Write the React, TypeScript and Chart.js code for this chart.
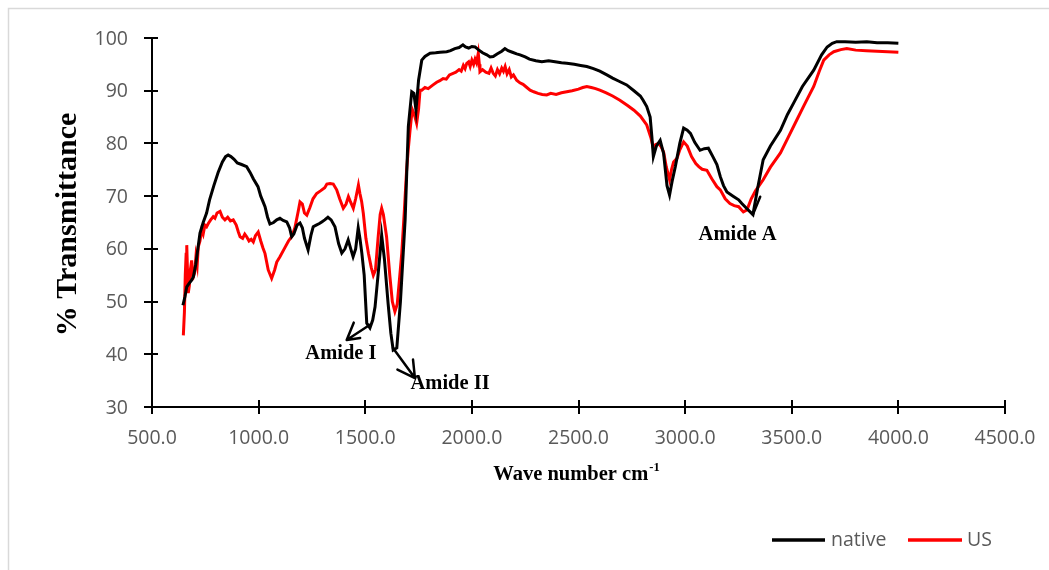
import React, { useEffect, useRef } from "react";
import { Chart, registerables } from "chart.js";

Chart.register(...registerables);

// ---- Data (wavenumber cm-1, % transmittance) ----
const nativeX = [
  645, 655, 663, 675, 685, 694, 705, 715, 725, 740, 756, 770, 790, 810, 830, 845, 857, 870, 885, 900,
  920, 944, 960, 975, 997, 1010, 1020, 1030, 1042, 1053, 1070, 1085, 1100, 1115, 1132, 1145, 1155, 1165, 1180, 1194,
  1205, 1215, 1232, 1245, 1256, 1270, 1285, 1296, 1310, 1325, 1340, 1358, 1375, 1390, 1405, 1420, 1432, 1443, 1455, 1467,
  1475, 1484, 1495, 1507, 1522, 1535, 1546, 1560, 1577, 1590, 1607, 1620, 1631, 1648, 1665, 1687, 1702, 1718, 1728, 1738,
  1750, 1765, 1780, 1804, 1830, 1851, 1882, 1900, 1920, 1940, 1958, 1970, 1985, 2000, 2015, 2030, 2050, 2070, 2085, 2100,
  2120, 2140, 2155, 2170, 2190, 2210, 2226, 2250, 2270, 2300, 2328, 2360, 2390, 2420, 2445, 2480, 2510, 2539, 2570, 2600,
  2633, 2660, 2690, 2726, 2760, 2790, 2803, 2820, 2836, 2844, 2851, 2865, 2883, 2899, 2915, 2927, 2940, 2954, 2975, 2993,
  3010, 3025, 3045, 3070, 3090, 3109, 3130, 3149, 3165, 3180, 3196, 3225, 3251, 3266, 3290, 3318, 3340, 3366, 3400, 3447,
  3480, 3508, 3550, 3603, 3640, 3666, 3690, 3711, 3750, 3800, 3852, 3900, 3950, 4000,
];
const nativeY = [
  49.3, 51, 52.8, 53.5, 54, 54.7, 57, 60, 63, 65, 66.8, 69.3, 72, 74.5, 76.5, 77.5, 77.8, 77.5, 77, 76.3,
  76, 75.6, 74.5, 73.3, 71.8, 70, 69, 68, 66, 64.7, 65, 65.5, 65.8, 65.4, 65.1, 64, 62.3, 62.8, 64.5, 64.9,
  64, 62, 59.8, 62.5, 64.2, 64.5, 64.8, 65.1, 65.5, 66, 65.5, 64.2, 61, 59.2, 60, 61.7, 60, 58.5, 60, 64,
  62, 59.2, 55, 45.9, 45, 46.5, 49, 55, 62.6, 58, 49.7, 44, 40.8, 41.2, 50, 65.5, 83.2, 89.8, 89.5, 86.3,
  92, 95.8, 96.5, 97.1, 97.2, 97.3, 97.4, 97.6, 98, 98.2, 98.7, 98.3, 98.1, 98.4, 98.3, 97.8, 97.2, 96.8, 96.4, 96.5,
  97, 97.5, 98, 97.6, 97.3, 97, 96.8, 96.4, 96, 95.7, 95.5, 95.7, 95.5, 95.3, 95.2, 95, 94.8, 94.6, 94.2, 93.7,
  93, 92.4, 91.8, 91.1, 90, 89, 88.2, 87, 85, 81.3, 77.5, 79.5, 80.6, 78.1, 72, 70.2, 73, 75.6, 80, 82.9,
  82.5, 81.9, 80.2, 78.7, 79, 79.1, 77.5, 76, 73.7, 72, 70.8, 70, 69.3, 68.6, 67.6, 66.5, 71.5, 76.9, 79.5, 82.5,
  85.5, 87.6, 90.8, 93.9, 96.8, 98.3, 99, 99.3, 99.3, 99.2, 99.3, 99.1, 99.1, 99,
];

const usX = [
  647, 652, 656, 660, 663, 667, 670, 675, 680, 686, 690, 694, 700, 706, 712, 717, 725, 733, 740, 748,
  756, 764, 775, 787, 795, 805, 819, 830, 842, 855, 868, 881, 895, 905, 913, 925, 935, 944, 955, 965,
  975, 985, 998, 1010, 1020, 1030, 1045, 1061, 1075, 1085, 1100, 1120, 1140, 1155, 1170, 1185, 1194, 1205, 1215, 1226,
  1240, 1255, 1272, 1290, 1310, 1320, 1335, 1350, 1366, 1380, 1397, 1410, 1421, 1430, 1444, 1455, 1468, 1475, 1483, 1491,
  1503, 1515, 1528, 1538, 1548, 1560, 1570, 1577, 1585, 1600, 1615, 1627, 1639, 1650, 1660, 1671, 1683, 1694, 1702, 1710,
  1716, 1722, 1730, 1741, 1750, 1757, 1765, 1780, 1795, 1818, 1835, 1850, 1865, 1880, 1895, 1912, 1925, 1940, 1950, 1960,
  1968, 1976, 1985, 1992, 2000, 2008, 2015, 2022, 2030, 2035, 2038, 2050, 2065, 2080, 2090, 2100, 2110, 2120, 2130, 2140,
  2148, 2156, 2165, 2175, 2185, 2195, 2210, 2225, 2240, 2255, 2273, 2290, 2310, 2330, 2351, 2370, 2395, 2420, 2445, 2470,
  2500, 2520, 2539, 2560, 2580, 2600, 2630, 2660, 2694, 2730, 2760, 2790, 2820, 2840, 2851, 2862, 2875, 2887, 2899, 2912,
  2927, 2936, 2946, 2962, 2975, 2993, 3010, 3030, 3050, 3064, 3080, 3102, 3125, 3149, 3165, 3188, 3210, 3230, 3251, 3273,
  3290, 3310, 3330, 3366, 3400, 3447, 3485, 3523, 3560, 3603, 3630, 3650, 3675, 3697, 3730, 3758, 3800, 3850, 3900, 3950,
  4000,
];
const usY = [
  43.6, 48, 55, 59, 60.7, 55, 51.6, 53, 56, 57.8, 55, 54.7, 55.5, 58.5, 57, 60.4, 61.5, 63.6, 62.8, 64.5,
  64.2, 64.8, 65.5, 66.1, 65.8, 66.8, 67.1, 66, 65.5, 66, 65.3, 65.5, 64.5, 63.2, 62.3, 62, 62.8, 62.3, 61.5, 61.8,
  61.3, 62.5, 63.2, 61.5, 60.2, 59.1, 56, 54.4, 56, 57.5, 58.5, 60, 61.5, 62.3, 64, 67, 68.9, 68.5, 66.8, 66.4,
  67.8, 69.5, 70.5, 71, 71.6, 72.3, 72.4, 72.3, 71.2, 69.5, 67.7, 68.5, 69.9, 69, 67.7, 69.5, 72.1, 70.5, 69, 66.7,
  62, 59.1, 56.5, 55, 56, 62, 66.5, 67.7, 66.5, 62.3, 55, 50, 48.1, 49.5, 54, 59.1, 67, 75, 79, 82.5,
  84.8, 86.3, 85.5, 83.8, 86.5, 90.1, 90.1, 90.6, 90.4, 91.1, 91.6, 91.9, 92.3, 92.2, 93, 93.3, 93.5, 94, 93.7, 94.8,
  94.2, 95.2, 95.5, 94.6, 95.8, 95, 96, 95.3, 97.1, 95, 93.6, 94, 93.5, 93.3, 94.3, 93.3, 92.8, 94, 93.2, 94.3,
  93.7, 94.6, 93.2, 94, 92.6, 93, 92, 91.5, 91.2, 90.7, 90.1, 89.8, 89.5, 89.3, 89.2, 89.5, 89.3, 89.6, 89.8, 90,
  90.3, 90.6, 90.8, 90.6, 90.4, 90.1, 89.6, 89, 88.2, 87.2, 86.3, 85.2, 83.5, 81, 79.1, 79.8, 80, 79.4, 78.4, 75.5,
  73.1, 75, 76.5, 77.2, 78.8, 80.3, 79.5, 77.5, 76.2, 75.6, 75.1, 74.9, 73.3, 71.8, 71.2, 69.5, 68.6, 68.2, 68, 67,
  67.4, 69.5, 71, 73.1, 75.5, 78.2, 81.3, 84.4, 87.4, 90.8, 93.8, 95.8, 96.8, 97.4, 97.8, 98, 97.7, 97.6, 97.5, 97.4,
  97.3,
];

const seriesNames = ["native", "US"];
const seriesColors = ["#000000", "#ff0000"];

const xTicks = [500, 1000, 1500, 2000, 2500, 3000, 3500, 4000, 4500];
const yTicks = [30, 40, 50, 60, 70, 80, 90, 100];

const yTitle = "% Transmittance";
const xTitle = "Wave number cm";
const xTitleSup = "-1";

// Annotations in data coordinates
const annotationLabels = [
  { text: "Amide I", x: 1386, y: 40.2 },
  { text: "Amide II", x: 1898, y: 34.5 },
  { text: "Amide A", x: 3246, y: 62.6 },
];
const annotationArrows = [
  { from: [1522, 45.6], to: [1413, 42.7], arms: [[1446, 46.0], [1476, 43.1]] },
  { from: [1630, 41.2], to: [1733, 35.5], arms: [[1724, 39.0], [1651, 37.1]] },
];
const annotationSegments = [{ from: [3318, 66.5], to: [3352, 69.9] }];

const tickFont = '19.5px "Open Sans", "Noto Sans", sans-serif';
const tickColor = "#595959";
const serifBold = (px: number) => `bold ${px}px "Liberation Serif", "DejaVu Serif", serif`;

const customPlugin = {
  id: "customDraw",
  beforeDraw(chart: any) {
    const ctx = chart.ctx as CanvasRenderingContext2D;
    ctx.save();
    ctx.fillStyle = "#ffffff";
    ctx.fillRect(0, 0, chart.width, chart.height);
    ctx.strokeStyle = "#d9d9d9";
    ctx.lineWidth = 1.5;
    ctx.beginPath();
    ctx.moveTo(8.5, chart.height);
    ctx.lineTo(8.5, 8.5);
    ctx.lineTo(chart.width, 8.5);
    ctx.stroke();
    ctx.restore();
  },
  beforeDatasetsDraw(chart: any) {
    const ctx = chart.ctx as CanvasRenderingContext2D;
    const xs = chart.scales.x;
    const ys = chart.scales.y;
    const area = chart.chartArea;
    ctx.save();
    ctx.strokeStyle = "#000";
    ctx.lineWidth = 2;
    ctx.beginPath();
    ctx.moveTo(area.left, area.top);
    ctx.lineTo(area.left, area.bottom);
    ctx.lineTo(area.right, area.bottom);
    ctx.stroke();
    ctx.beginPath();
    for (const v of yTicks) {
      const py = Math.round(ys.getPixelForValue(v));
      ctx.moveTo(area.left - 8, py);
      ctx.lineTo(area.left + 6, py);
    }
    for (const v of xTicks) {
      const px = Math.round(xs.getPixelForValue(v));
      ctx.moveTo(px, area.bottom - 7);
      ctx.lineTo(px, area.bottom + 7);
    }
    ctx.stroke();

    // tick labels
    ctx.fillStyle = tickColor;
    ctx.font = tickFont;
    ctx.textAlign = "right";
    ctx.textBaseline = "middle";
    for (const v of yTicks) {
      ctx.fillText(String(v), area.left - 24, ys.getPixelForValue(v) + 1);
    }
    ctx.textAlign = "center";
    for (const v of xTicks) {
      ctx.fillText(v.toFixed(1), xs.getPixelForValue(v), area.bottom + 31);
    }

    // y title
    ctx.fillStyle = "#000";
    ctx.font = serifBold(30);
    ctx.save();
    ctx.translate(68, (area.top + area.bottom) / 2 + 2);
    ctx.rotate(-Math.PI / 2);
    ctx.textAlign = "center";
    ctx.textBaseline = "middle";
    ctx.fillText(yTitle, 0, 0);
    ctx.restore();

    // x title with superscript
    ctx.font = serifBold(20.5);
    const mainW = ctx.measureText(xTitle).width;
    ctx.font = serifBold(12.5);
    const supW = ctx.measureText(xTitleSup).width;
    const startX = 576 - (mainW + supW) / 2;
    ctx.textAlign = "left";
    ctx.textBaseline = "alphabetic";
    ctx.font = serifBold(20.5);
    ctx.fillText(xTitle, startX, 480);
    ctx.font = serifBold(12.5);
    ctx.fillText(xTitleSup, startX + mainW + 1, 471);

    // legend
    const legendItems = [
      { x1: 772, x2: 825, tx: 831 },
      { x1: 908, x2: 962, tx: 967 },
    ];
    ctx.lineWidth = 3.5;
    ctx.font = tickFont;
    ctx.textBaseline = "middle";
    legendItems.forEach((it, i) => {
      ctx.strokeStyle = seriesColors[i];
      ctx.beginPath();
      ctx.moveTo(it.x1, 540);
      ctx.lineTo(it.x2, 540);
      ctx.stroke();
      ctx.fillStyle = tickColor;
      ctx.fillText(seriesNames[i], it.tx, 540);
    });
    ctx.restore();
  },
  afterDatasetsDraw(chart: any) {
    const ctx = chart.ctx as CanvasRenderingContext2D;
    const xs = chart.scales.x;
    const ys = chart.scales.y;
    const P = (p: number[]) => [xs.getPixelForValue(p[0]), ys.getPixelForValue(p[1])];
    ctx.save();
    ctx.strokeStyle = "#000";
    ctx.lineWidth = 2.5;
    ctx.lineCap = "round";
    ctx.lineJoin = "round";
    for (const a of annotationArrows) {
      const f = P(a.from), t = P(a.to);
      ctx.beginPath();
      ctx.moveTo(f[0], f[1]);
      ctx.lineTo(t[0], t[1]);
      for (const arm of a.arms) {
        const m = P(arm);
        ctx.moveTo(m[0], m[1]);
        ctx.lineTo(t[0], t[1]);
      }
      ctx.stroke();
    }
    for (const s of annotationSegments) {
      const f = P(s.from), t = P(s.to);
      ctx.beginPath();
      ctx.moveTo(f[0], f[1]);
      ctx.lineTo(t[0], t[1]);
      ctx.stroke();
    }
    ctx.fillStyle = "#000";
    ctx.font = serifBold(20.5);
    ctx.textAlign = "center";
    ctx.textBaseline = "middle";
    for (const l of annotationLabels) {
      ctx.fillText(l.text, xs.getPixelForValue(l.x), ys.getPixelForValue(l.y));
    }
    ctx.restore();
  },
};

export default function App() {
  const canvasRef = useRef<HTMLCanvasElement | null>(null);

  useEffect(() => {
    if (!canvasRef.current) return;
    const toPoints = (xsArr: number[], ysArr: number[]) =>
      xsArr.map((x, i) => ({ x, y: ysArr[i] }));
    const chart = new Chart(canvasRef.current, {
      type: "line",
      data: {
        datasets: [
          {
            label: seriesNames[0],
            data: toPoints(nativeX, nativeY),
            borderColor: seriesColors[0],
            backgroundColor: seriesColors[0],
            borderWidth: 3,
            pointRadius: 0,
            tension: 0,
          },
          {
            label: seriesNames[1],
            data: toPoints(usX, usY),
            borderColor: seriesColors[1],
            backgroundColor: seriesColors[1],
            borderWidth: 3,
            pointRadius: 0,
            tension: 0,
          },
        ],
      },
      options: {
        animation: false,
        responsive: false,
        devicePixelRatio: 1,
        layout: { padding: { left: 152, top: 38, right: 44, bottom: 163 } },
        plugins: {
          legend: { display: false },
          tooltip: { enabled: false },
        },
        scales: {
          x: { type: "linear", min: 500, max: 4500, display: false },
          y: { type: "linear", min: 30, max: 100, display: false },
        },
      },
      plugins: [customPlugin],
    } as any);
    return () => chart.destroy();
  }, []);

  return (
    <div style={{ position: "absolute", left: 0, top: 0, width: 1049, height: 570 }}>
      <canvas ref={canvasRef} width={1049} height={570} />
    </div>
  );
}
